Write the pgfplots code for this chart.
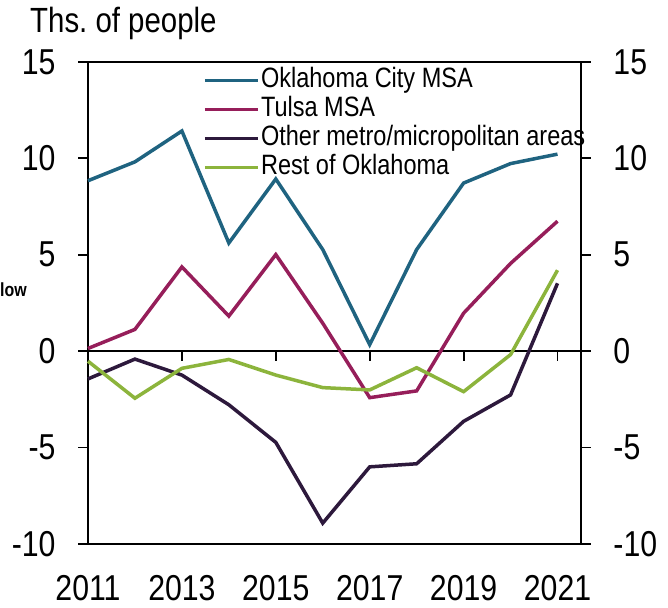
\documentclass[border=0pt]{standalone}
\usepackage{fontspec}
\setmainfont{Liberation Sans}[FakeStretch=0.84]
\usepackage{pgfplots}
\pgfplotsset{compat=1.18}
\definecolor{okc}{HTML}{1F6380}
\definecolor{tulsa}{HTML}{961E5A}
\definecolor{othermetro}{HTML}{2D193C}
\definecolor{restok}{HTML}{8CB43C}
\begin{document}
\begin{tikzpicture}
\pgfplotsset{
  common/.style={
    width=493pt, height=482pt, scale only axis,
    xmin=2011, xmax=2021.5, ymin=-10, ymax=15,
    ytick={-10,-5,0,5,10,15},
    tick align=outside,
    major tick length=10pt,
    /pgf/number format/assume math mode=true,
    /pgf/number format/1000 sep={},
    tick label style={font=\fontsize{36}{36}\selectfont},
    axis line style={line width=1.8pt},
    ytick style={line width=1.8pt, black},
  }
}
\begin{axis}[common,
  clip=false,
  xtick={2011,2013,2015,2017,2019,2021},
  xtick style={draw=none},
  xticklabel style={inner sep=0pt, yshift=-21pt},
  yticklabel pos=left,
  yticklabel style={xshift=-19pt},
  legend style={at={(rel axis cs:0.233,0.992)}, anchor=north west,
    draw=none, fill=none, inner sep=0pt, row sep=0pt,
    font=\fontsize{28}{28}\selectfont,
    nodes={inner sep=1.5pt, text height=20pt, text depth=6pt}},
  legend cell align=left,
  legend image code/.code={\draw[#1] (0pt,0pt) -- (53pt,0pt);},
]
\path (rel axis cs:-0.1785,-0.1328) rectangle (rel axis cs:1.1765,1.1286);
\draw[line width=1.8pt] (axis cs:2011,0) -- (axis cs:2021.5,0);
\pgfplotsinvokeforeach{2013,2015,2017,2019,2021}{
  \draw[line width=1.8pt] (axis cs:#1,0) -- ++(0pt,-10pt);
}
\addplot[okc, line width=3.5pt] coordinates {
(2011,8.84) (2012,9.82) (2013,11.42) (2014,5.61) (2015,8.93) (2016,5.27)
(2017,0.34) (2018,5.27) (2019,8.72) (2020,9.73) (2021,10.22)};
\addlegendentry{Oklahoma City MSA}
\addplot[tulsa, line width=3.5pt] coordinates {
(2011,0.14) (2012,1.13) (2013,4.37) (2014,1.82) (2015,5.01) (2016,1.45)
(2017,-2.41) (2018,-2.06) (2019,1.97) (2020,4.55) (2021,6.74)};
\addlegendentry{Tulsa MSA}
\addplot[othermetro, line width=3.5pt] coordinates {
(2011,-1.44) (2012,-0.41) (2013,-1.24) (2014,-2.78) (2015,-4.73) (2016,-8.92)
(2017,-6.0) (2018,-5.84) (2019,-3.64) (2020,-2.27) (2021,3.52)};
\addlegendentry{Other metro/micropolitan areas}
\addplot[restok, line width=3.5pt] coordinates {
(2011,-0.52) (2012,-2.44) (2013,-0.89) (2014,-0.43) (2015,-1.24) (2016,-1.89)
(2017,-2.01) (2018,-0.86) (2019,-2.1) (2020,-0.18) (2021,4.2)};
\addlegendentry{Rest of Oklahoma}
\node[anchor=base west, inner sep=0pt, font=\fontsize{35}{35}\selectfont]
  at (rel axis cs:-0.1176,1.0622) {Ths.\ of people};
\node[anchor=base west, inner sep=0pt, font=\bfseries\fontsize{19}{19}\selectfont]
  at (rel axis cs:-0.1785,0.5124) {low};
\end{axis}
\begin{axis}[common,
  xtick=\empty,
  axis line style={draw=none},
  ytick style={draw=none},
  yticklabel pos=right,
  yticklabel style={xshift=19pt},
]
\end{axis}
\end{tikzpicture}
\end{document}
